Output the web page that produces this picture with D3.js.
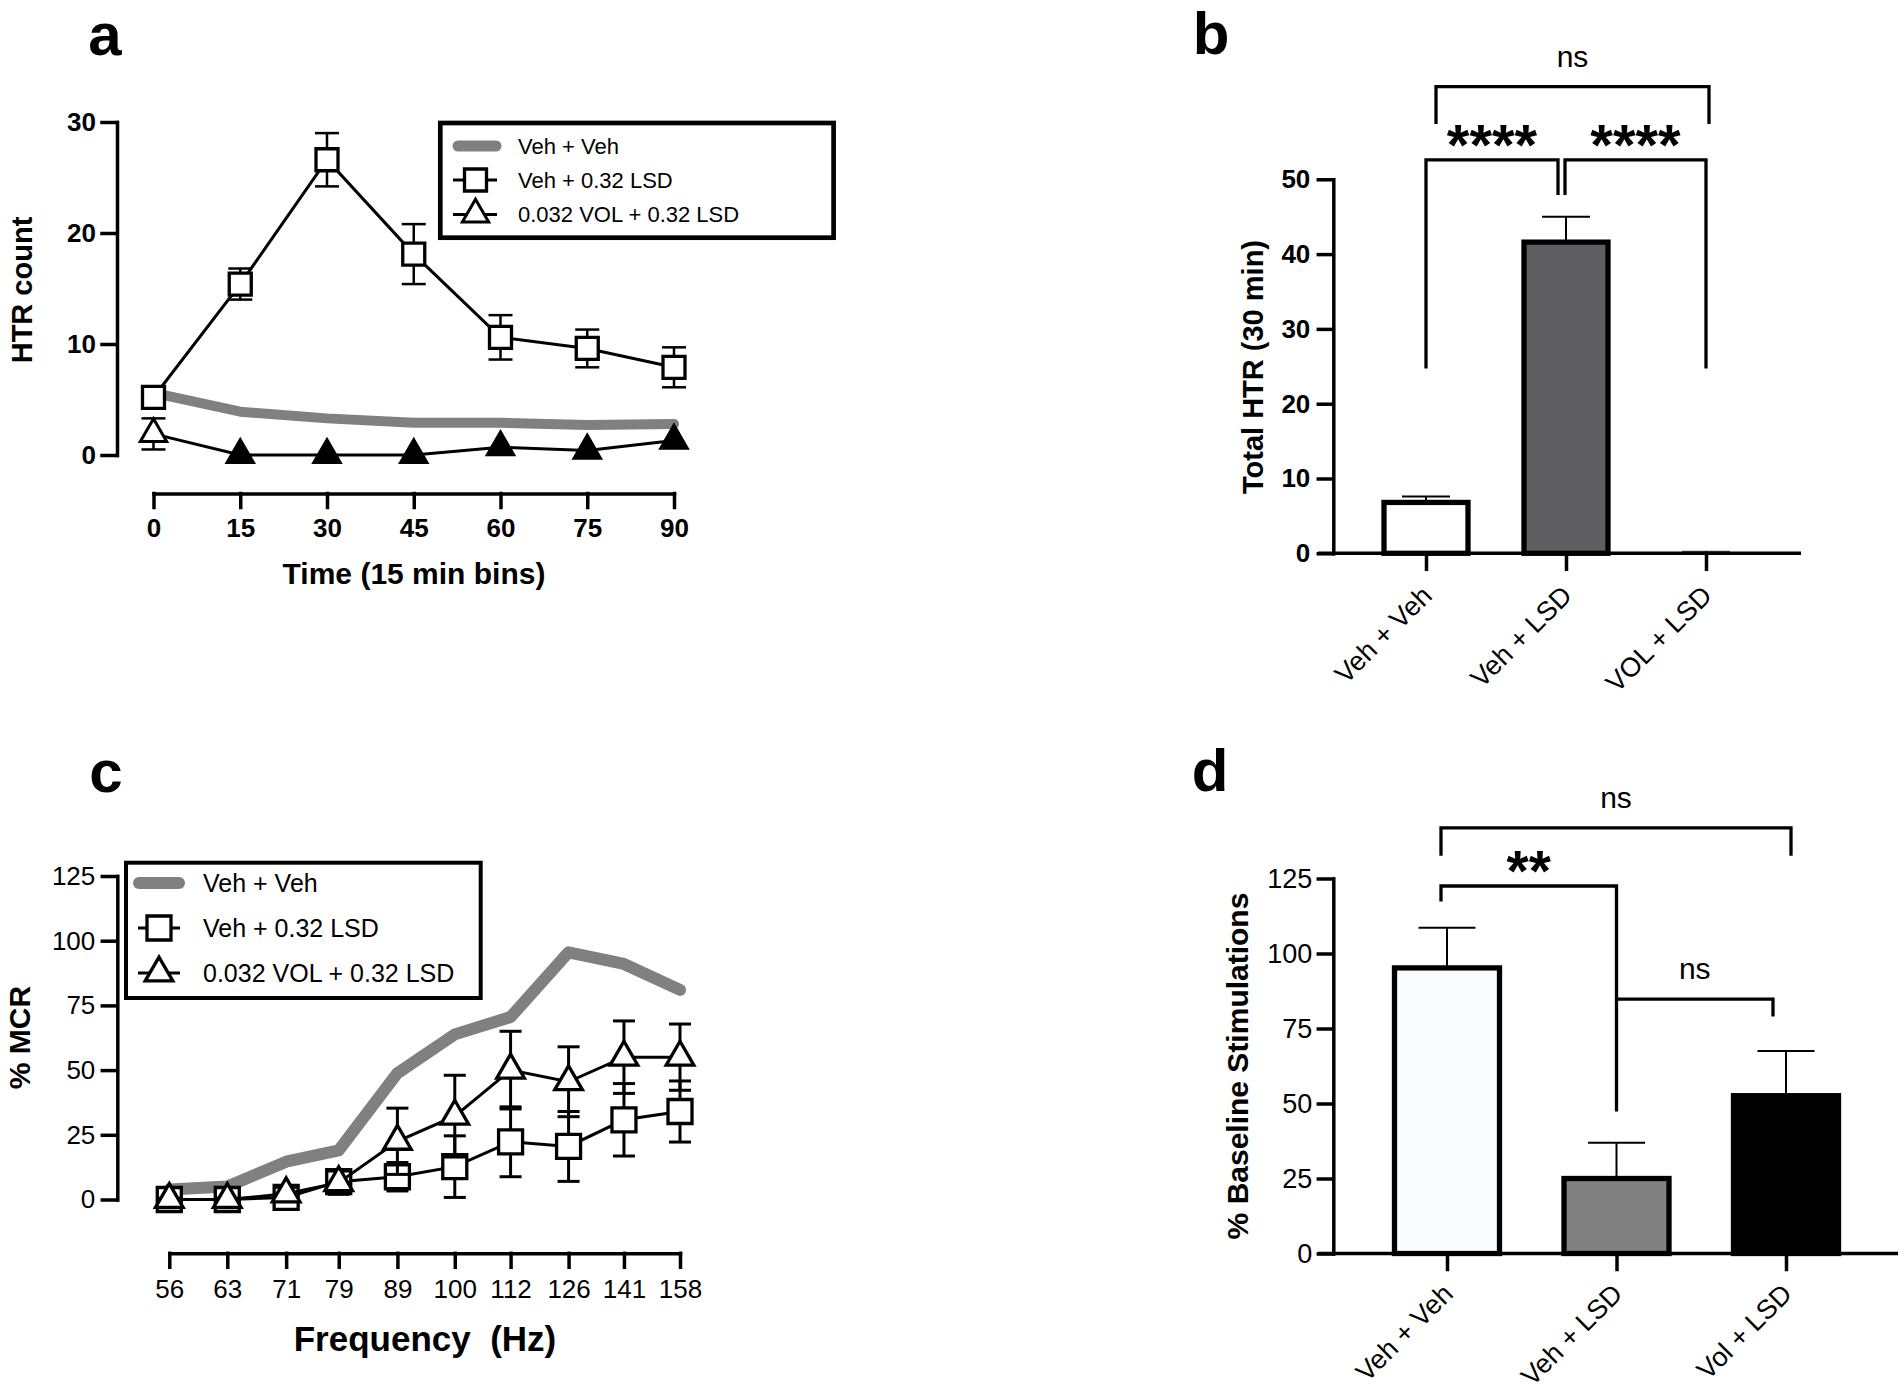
<!DOCTYPE html>
<html>
<head>
<meta charset="utf-8">
<script src="https://cdn.jsdelivr.net/npm/d3@7"></script>
<style>
  body { margin: 0; background: #fff; }
  svg { display: block; font-family: "Liberation Sans", Arial, Helvetica, sans-serif; }
</style>
</head>
<body>
<div class="chart"></div>
<script>
// Data
//= ================================
// a: HTR count over time (15 min bins)
var timeBins = [0, 15, 30, 45, 60, 75, 90];
var htrVehVeh = [5.6, 3.9, 3.3, 2.9, 2.9, 2.7, 2.8];
var htrVehLsd = [5.2, 15.4, 26.6, 18.1, 10.6, 9.6, 7.9];
var htrVehLsdSem = [0.5, 1.4, 2.4, 2.7, 2.0, 1.7, 1.8];
var htrVolLsd = [1.9, 0, 0, 0, 0.7, 0.4, 1.3];
var htrVolLsdSem = [1.4, 0, 0, 0, 0, 0, 0];
var htrVolLsdFilled = [false, true, true, true, true, true, true];
var legendLabelsA = ["Veh + Veh", "Veh + 0.32 LSD", "0.032 VOL + 0.32 LSD"];

// b: total HTR (30 min)
var groupsB = ["Veh + Veh", "Veh + LSD", "VOL + LSD"];
var totalHtr = [6.8, 41.6, 0.05];
var totalHtrSem = [0.8, 3.4, 0.15];
var fillsB = ["#ffffff", "#5f5f61", "#ffffff"];

// c: % MCR vs frequency
var freqs = [56, 63, 71, 79, 89, 100, 112, 126, 141, 158];
var mcrVehVeh = [3.9, 5.0, 14.6, 19.0, 48.8, 63.8, 70.5, 95.5, 91.0, 81.0];
var mcrVehLsd = [0, 0, 0.8, 6.9, 8.8, 12.7, 22.3, 20.5, 30.8, 34.0];
var mcrVehLsdSem = [0.5, 0.5, 2.5, 4.5, 5.5, 11.9, 13.5, 13.5, 14.0, 11.8];
var mcrVolLsd = [0, 0, 2.2, 6.5, 22.5, 32.2, 50.0, 45.5, 55.0, 55.0];
var mcrVolLsdSem = [0.5, 0.5, 2.5, 4.5, 12.8, 15.8, 15.0, 13.5, 14.0, 12.8];
var legendLabelsC = ["Veh + Veh", "Veh + 0.32 LSD", "0.032 VOL + 0.32 LSD"];

// d: % baseline stimulations
var groupsD = ["Veh + Veh", "Veh + LSD", "Vol + LSD"];
var baseline = [95.2, 25.0, 52.6];
var baselineSem = [13.4, 11.9, 14.9];
var fillsD = ["#fbfcfe", "#808080", "#000000"];

// significance brackets: group indices, bracket level and leg ends (data units)
var bracketsB = [
  { from: 0, to: 2, top: 62.4, left: 57.4, right: 57.4, label: "ns" },
  { from: 0, to: 1, top: 52.6, left: 24.7, right: 47.9, label: "****" },
  { from: 1, to: 2, top: 52.6, left: 47.9, right: 24.7, label: "****" }
];
var bracketsD = [
  { from: 0, to: 2, top: 141.9, left: 132.6, right: 132.6, label: "ns" },
  { from: 0, to: 1, top: 122.5, left: 117.3, right: 47.3, label: "**" },
  { from: 1, to: 2, top: 84.8, left: 84.8, right: 79.0, label: "ns" }
];

// Step 0: set up the page
//= ================================
var svgWidth = 1902;
var svgHeight = 1397;
var gray = "#808080";

var svg = d3
  .select(".chart")
  .append("svg")
  .attr("width", svgWidth)
  .attr("height", svgHeight);

// style an axis group the way Prism draws it
function styleAxis(g, size, weight) {
  g.attr("font-size", null).attr("font-family", null);
  g.selectAll("path, line")
    .attr("stroke", "#000")
    .attr("stroke-width", 3.5)
    .attr("stroke-linecap", "square");
  g.selectAll("text")
    .attr("fill", "#000")
    .attr("font-size", size)
    .attr("font-weight", weight);
}

function panelLetter(txt, x, y) {
  svg.append("text")
    .attr("x", x).attr("y", y)
    .attr("text-anchor", "middle")
    .attr("font-size", 60)
    .attr("font-weight", "bold")
    .text(txt);
}

function yTitle(txt, x, y, size) {
  svg.append("text")
    .attr("transform", "translate(" + x + "," + y + ") rotate(-90)")
    .attr("text-anchor", "middle")
    .attr("dy", "0.35em")
    .attr("font-size", size)
    .attr("font-weight", "bold")
    .text(txt);
}

// vertical error bar with caps at both ends
function errorBars(g, xs, ys, lo, hi, capW, width) {
  var eg = g.append("g").attr("stroke", "#000").attr("stroke-width", width);
  xs.forEach(function(x, i) {
    if (hi[i] - lo[i] <= 0) return;
    eg.append("line").attr("x1", x).attr("x2", x).attr("y1", ys(lo[i])).attr("y2", ys(hi[i]));
    eg.append("line").attr("x1", x - capW / 2).attr("x2", x + capW / 2).attr("y1", ys(hi[i])).attr("y2", ys(hi[i]));
    eg.append("line").attr("x1", x - capW / 2).attr("x2", x + capW / 2).attr("y1", ys(lo[i])).attr("y2", ys(lo[i]));
  });
}

function brackets(g, list, xPos, y, nudge, starSize, textSize) {
  list.forEach(function(b, i) {
    var x1 = xPos(b.from) + nudge[i][0];
    var x2 = xPos(b.to) + nudge[i][1];
    g.append("path")
      .attr("d", "M" + x1 + "," + y(b.left) + "V" + y(b.top) + "H" + x2 + "V" + y(b.right))
      .attr("fill", "none")
      .attr("stroke", "#000")
      .attr("stroke-width", 3.3);
    var isStar = b.label.indexOf("*") === 0;
    g.append("text")
      .attr("x", (x1 + x2) / 2)
      .attr("y", y(b.top) + (isStar ? 5 : -20))
      .attr("text-anchor", "middle")
      .attr("font-size", isStar ? starSize : textSize)
      .attr("font-weight", isStar ? "bold" : "normal")
      .text(b.label);
  });
}

// Panel a: HTR time course
//= ================================
var xA = d3.scaleLinear().domain([0, 90]).range([153.5, 674]);
var yA = d3.scaleLinear().domain([0, 30]).range([455, 122]);
var gA = svg.append("g");

var axA = gA.append("g").attr("transform", "translate(0,493.5)")
  .call(d3.axisBottom(xA).tickValues(timeBins).tickSize(14).tickSizeOuter(0).tickPadding(11));
styleAxis(axA, 26, "bold");
var ayA = gA.append("g").attr("transform", "translate(117,0)")
  .call(d3.axisLeft(yA).tickValues([0, 10, 20, 30]).tickSize(15).tickSizeOuter(0).tickPadding(6));
styleAxis(ayA, 26, "bold");

var lineA = d3.line().x(function(d, i) { return xA(timeBins[i]); }).y(function(d) { return yA(d); });

gA.append("path").datum(htrVehVeh).attr("d", lineA)
  .attr("fill", "none").attr("stroke", gray).attr("stroke-width", 10)
  .attr("stroke-linecap", "round").attr("stroke-linejoin", "round");

// VOL + LSD triangles
errorBars(gA, timeBins.map(function(t) { return xA(t); }), yA,
  htrVolLsd.map(function(v, i) { return v - htrVolLsdSem[i]; }),
  htrVolLsd.map(function(v, i) { return v + htrVolLsdSem[i]; }), 24, 2.5);
gA.append("path").datum(htrVolLsd).attr("d", lineA)
  .attr("fill", "none").attr("stroke", "#000").attr("stroke-width", 3);
gA.selectAll("path.tri").data(htrVolLsd).join("path").attr("class", "tri")
  .attr("transform", function(d, i) { return "translate(" + xA(timeBins[i]) + "," + yA(d) + ")"; })
  .attr("d", d3.symbol(d3.symbolTriangle, 300))
  .attr("fill", function(d, i) { return htrVolLsdFilled[i] ? "#000" : "#fff"; })
  .attr("stroke", "#000").attr("stroke-width", 3);

// Veh + LSD squares
errorBars(gA, timeBins.map(function(t) { return xA(t); }), yA,
  htrVehLsd.map(function(v, i) { return v - htrVehLsdSem[i]; }),
  htrVehLsd.map(function(v, i) { return v + htrVehLsdSem[i]; }), 24, 2.5);
gA.append("path").datum(htrVehLsd).attr("d", lineA)
  .attr("fill", "none").attr("stroke", "#000").attr("stroke-width", 3);
gA.selectAll("path.sq").data(htrVehLsd).join("path").attr("class", "sq")
  .attr("transform", function(d, i) { return "translate(" + xA(timeBins[i]) + "," + yA(d) + ")"; })
  .attr("d", d3.symbol(d3.symbolSquare, 484))
  .attr("fill", "#fff").attr("stroke", "#000").attr("stroke-width", 3.3);

// legend a
var legA = gA.append("g");
legA.append("rect").attr("x", 440.3).attr("y", 123).attr("width", 393.3).attr("height", 114.7)
  .attr("fill", "#fff").attr("stroke", "#000").attr("stroke-width", 4.7);
var rowYA = [146, 180, 214.5];
legA.append("line").attr("x1", 458).attr("x2", 496).attr("y1", rowYA[0]).attr("y2", rowYA[0])
  .attr("stroke", gray).attr("stroke-width", 11).attr("stroke-linecap", "round");
[1, 2].forEach(function(r) {
  legA.append("line").attr("x1", 453).attr("x2", 497).attr("y1", rowYA[r]).attr("y2", rowYA[r])
    .attr("stroke", "#000").attr("stroke-width", 3);
});
legA.append("path").attr("transform", "translate(475.5," + rowYA[1] + ")")
  .attr("d", d3.symbol(d3.symbolSquare, 484)).attr("fill", "#fff").attr("stroke", "#000").attr("stroke-width", 3.3);
legA.append("path").attr("transform", "translate(475.5," + rowYA[2] + ")")
  .attr("d", d3.symbol(d3.symbolTriangle, 300)).attr("fill", "#fff").attr("stroke", "#000").attr("stroke-width", 3);
legA.selectAll("text").data(legendLabelsA).join("text")
  .attr("x", 518).attr("y", function(d, i) { return rowYA[i]; }).attr("dy", "0.36em")
  .attr("font-size", 22).text(function(d) { return d; });

svg.append("text").attr("x", 414).attr("y", 584).attr("text-anchor", "middle")
  .attr("font-size", 30).attr("font-weight", "bold").text("Time (15 min bins)");
yTitle("HTR count", 22, 290, 29);
panelLetter("a", 105, 55);

// Panel b: total HTR bars
//= ================================
var xB = d3.scalePoint().domain(groupsB).range([1426, 1706]);
var yB = d3.scaleLinear().domain([0, 50]).range([553.3, 179.3]);
var gB = svg.append("g");
var barWB = 84;

gB.selectAll("rect.bar").data(totalHtr).join("rect").attr("class", "bar")
  .attr("x", function(d, i) { return xB(groupsB[i]) - barWB / 2; })
  .attr("y", function(d) { return yB(d); })
  .attr("width", barWB)
  .attr("height", function(d) { return yB(0) - yB(d); })
  .attr("fill", function(d, i) { return fillsB[i]; })
  .attr("stroke", function(d, i) { return i === 2 ? "none" : "#000"; })
  .attr("stroke-width", 5.3);

totalHtr.forEach(function(v, i) {
  var x = xB(groupsB[i]);
  gB.append("line").attr("x1", x).attr("x2", x).attr("y1", yB(v)).attr("y2", yB(v + totalHtrSem[i]))
    .attr("stroke", "#000").attr("stroke-width", 2);
  gB.append("line").attr("x1", x - 24).attr("x2", x + 24)
    .attr("y1", yB(v + totalHtrSem[i])).attr("y2", yB(v + totalHtrSem[i]))
    .attr("stroke", i === 2 ? "#555" : "#000").attr("stroke-width", 2);
});

var axB = gB.append("g").attr("transform", "translate(0,553.3)")
  .call(d3.axisBottom(xB).tickSize(16).tickSizeOuter(0));
styleAxis(axB, 27, "normal");
axB.select(".domain").remove();
axB.selectAll(".tick text")
  .attr("x", 0).attr("y", 0).attr("dy", 0)
  .attr("text-anchor", "end")
  .attr("transform", "translate(7,44) rotate(-45)");
gB.append("line").attr("x1", 1318).attr("x2", 1801).attr("y1", 553.3).attr("y2", 553.3)
  .attr("stroke", "#000").attr("stroke-width", 3.5);
var ayB = gB.append("g").attr("transform", "translate(1333.3,0)")
  .call(d3.axisLeft(yB).tickValues([0, 10, 20, 30, 40, 50]).tickSize(15).tickSizeOuter(0).tickPadding(8));
styleAxis(ayB, 26, "bold");

brackets(gB, bracketsB, function(i) { return xB(groupsB[i]); }, yB,
  [[10, 3], [0, -8], [-1, 0]], 58, 30);

yTitle("Total HTR (30 min)", 1253, 367, 29);
panelLetter("b", 1211, 54);

// Panel c: % MCR by frequency
//= ================================
var xC = d3.scaleLog().domain([56, 158]).range([169.3, 680]);
var yC = d3.scaleLinear().domain([0, 125]).range([1199.5, 876]);
var gC = svg.append("g");

var axC = gC.append("g").attr("transform", "translate(0,1253.3)")
  .call(d3.axisBottom(xC).tickValues(freqs).tickFormat(d3.format("d")).tickSize(14).tickSizeOuter(0).tickPadding(12));
styleAxis(axC, 26, "normal");
var ayC = gC.append("g").attr("transform", "translate(117.3,0)")
  .call(d3.axisLeft(yC).tickValues([0, 25, 50, 75, 100, 125]).tickSize(15).tickSizeOuter(0).tickPadding(7));
styleAxis(ayC, 26, "normal");

var lineC = d3.line().x(function(d, i) { return xC(freqs[i]); }).y(function(d) { return yC(d); });
gC.append("path").datum(mcrVehVeh).attr("d", lineC)
  .attr("fill", "none").attr("stroke", gray).attr("stroke-width", 12)
  .attr("stroke-linecap", "round").attr("stroke-linejoin", "round");

var freqX = freqs.map(function(f) { return xC(f); });
errorBars(gC, freqX, yC,
  mcrVehLsd.map(function(v, i) { return v - mcrVehLsdSem[i]; }),
  mcrVehLsd.map(function(v, i) { return v + mcrVehLsdSem[i]; }), 22, 3);
gC.append("path").datum(mcrVehLsd).attr("d", lineC)
  .attr("fill", "none").attr("stroke", "#000").attr("stroke-width", 3);
gC.selectAll("path.sq").data(mcrVehLsd).join("path").attr("class", "sq")
  .attr("transform", function(d, i) { return "translate(" + freqX[i] + "," + yC(d) + ")"; })
  .attr("d", d3.symbol(d3.symbolSquare, 576))
  .attr("fill", "#fff").attr("stroke", "#000").attr("stroke-width", 3.3);

errorBars(gC, freqX, yC,
  mcrVolLsd.map(function(v, i) { return v - mcrVolLsdSem[i]; }),
  mcrVolLsd.map(function(v, i) { return v + mcrVolLsdSem[i]; }), 22, 3);
gC.append("path").datum(mcrVolLsd).attr("d", lineC)
  .attr("fill", "none").attr("stroke", "#000").attr("stroke-width", 3);
gC.selectAll("path.tri").data(mcrVolLsd).join("path").attr("class", "tri")
  .attr("transform", function(d, i) { return "translate(" + freqX[i] + "," + yC(d) + ")"; })
  .attr("d", d3.symbol(d3.symbolTriangle, 330))
  .attr("fill", "#fff").attr("stroke", "#000").attr("stroke-width", 3.3);

// legend c
var legC = gC.append("g");
legC.append("rect").attr("x", 126).attr("y", 862.7).attr("width", 354.7).attr("height", 135.3)
  .attr("fill", "#fff").attr("stroke", "#000").attr("stroke-width", 4);
var rowYC = [883, 928, 973];
legC.append("line").attr("x1", 139).attr("x2", 179).attr("y1", rowYC[0]).attr("y2", rowYC[0])
  .attr("stroke", gray).attr("stroke-width", 12).attr("stroke-linecap", "round");
[1, 2].forEach(function(r) {
  legC.append("line").attr("x1", 138).attr("x2", 180).attr("y1", rowYC[r]).attr("y2", rowYC[r])
    .attr("stroke", "#000").attr("stroke-width", 3);
});
legC.append("path").attr("transform", "translate(159," + rowYC[1] + ")")
  .attr("d", d3.symbol(d3.symbolSquare, 576)).attr("fill", "#fff").attr("stroke", "#000").attr("stroke-width", 3.3);
legC.append("path").attr("transform", "translate(159," + rowYC[2] + ")")
  .attr("d", d3.symbol(d3.symbolTriangle, 330)).attr("fill", "#fff").attr("stroke", "#000").attr("stroke-width", 3.3);
legC.selectAll("text").data(legendLabelsC).join("text")
  .attr("x", 203).attr("y", function(d, i) { return rowYC[i]; }).attr("dy", "0.36em")
  .attr("font-size", 25).text(function(d) { return d; });

svg.append("text").attr("x", 425).attr("y", 1351).attr("text-anchor", "middle")
  .attr("font-size", 35).attr("font-weight", "bold").style("white-space", "pre")
  .text("Frequency  (Hz)");
yTitle("% MCR", 19, 1037.5, 30);
panelLetter("c", 106, 792);

// Panel d: % baseline stimulations
//= ================================
var xD = d3.scalePoint().domain(groupsD).range([1447, 1786]);
var yD = d3.scaleLinear().domain([0, 125]).range([1253.5, 878.5]);
var gD = svg.append("g");
var barWD = 105;

gD.selectAll("rect.bar").data(baseline).join("rect").attr("class", "bar")
  .attr("x", function(d, i) { return xD(groupsD[i]) - barWD / 2; })
  .attr("y", function(d) { return yD(d); })
  .attr("width", barWD)
  .attr("height", function(d) { return yD(0) - yD(d); })
  .attr("fill", function(d, i) { return fillsD[i]; })
  .attr("stroke", "#000")
  .attr("stroke-width", 5.3);

baseline.forEach(function(v, i) {
  var x = xD(groupsD[i]);
  gD.append("line").attr("x1", x).attr("x2", x).attr("y1", yD(v)).attr("y2", yD(v + baselineSem[i]))
    .attr("stroke", "#000").attr("stroke-width", 2);
  gD.append("line").attr("x1", x - 28.5).attr("x2", x + 28.5)
    .attr("y1", yD(v + baselineSem[i])).attr("y2", yD(v + baselineSem[i]))
    .attr("stroke", "#000").attr("stroke-width", 2);
});

var axD = gD.append("g").attr("transform", "translate(0,1253.5)")
  .call(d3.axisBottom(xD).tickSize(16).tickSizeOuter(0));
styleAxis(axD, 27, "normal");
axD.select(".domain").remove();
axD.selectAll(".tick text")
  .attr("x", 0).attr("y", 0).attr("dy", 0)
  .attr("text-anchor", "end")
  .attr("transform", "translate(7,42) rotate(-45)");
gD.append("line").attr("x1", 1318).attr("x2", 1898).attr("y1", 1253.5).attr("y2", 1253.5)
  .attr("stroke", "#000").attr("stroke-width", 3.5);
var ayD = gD.append("g").attr("transform", "translate(1333.3,0)")
  .call(d3.axisLeft(yD).tickValues([0, 25, 50, 75, 100, 125]).tickSize(15).tickSizeOuter(0).tickPadding(6));
styleAxis(ayD, 27, "normal");

brackets(gD, bracketsD, function(i) { return xD(groupsD[i]); }, yD,
  [[-6, 5], [-6, 0], [0, -13]], 57, 30);

yTitle("% Baseline Stimulations", 1237, 1066, 30);
panelLetter("d", 1210, 791);
</script>
</body>
</html>
